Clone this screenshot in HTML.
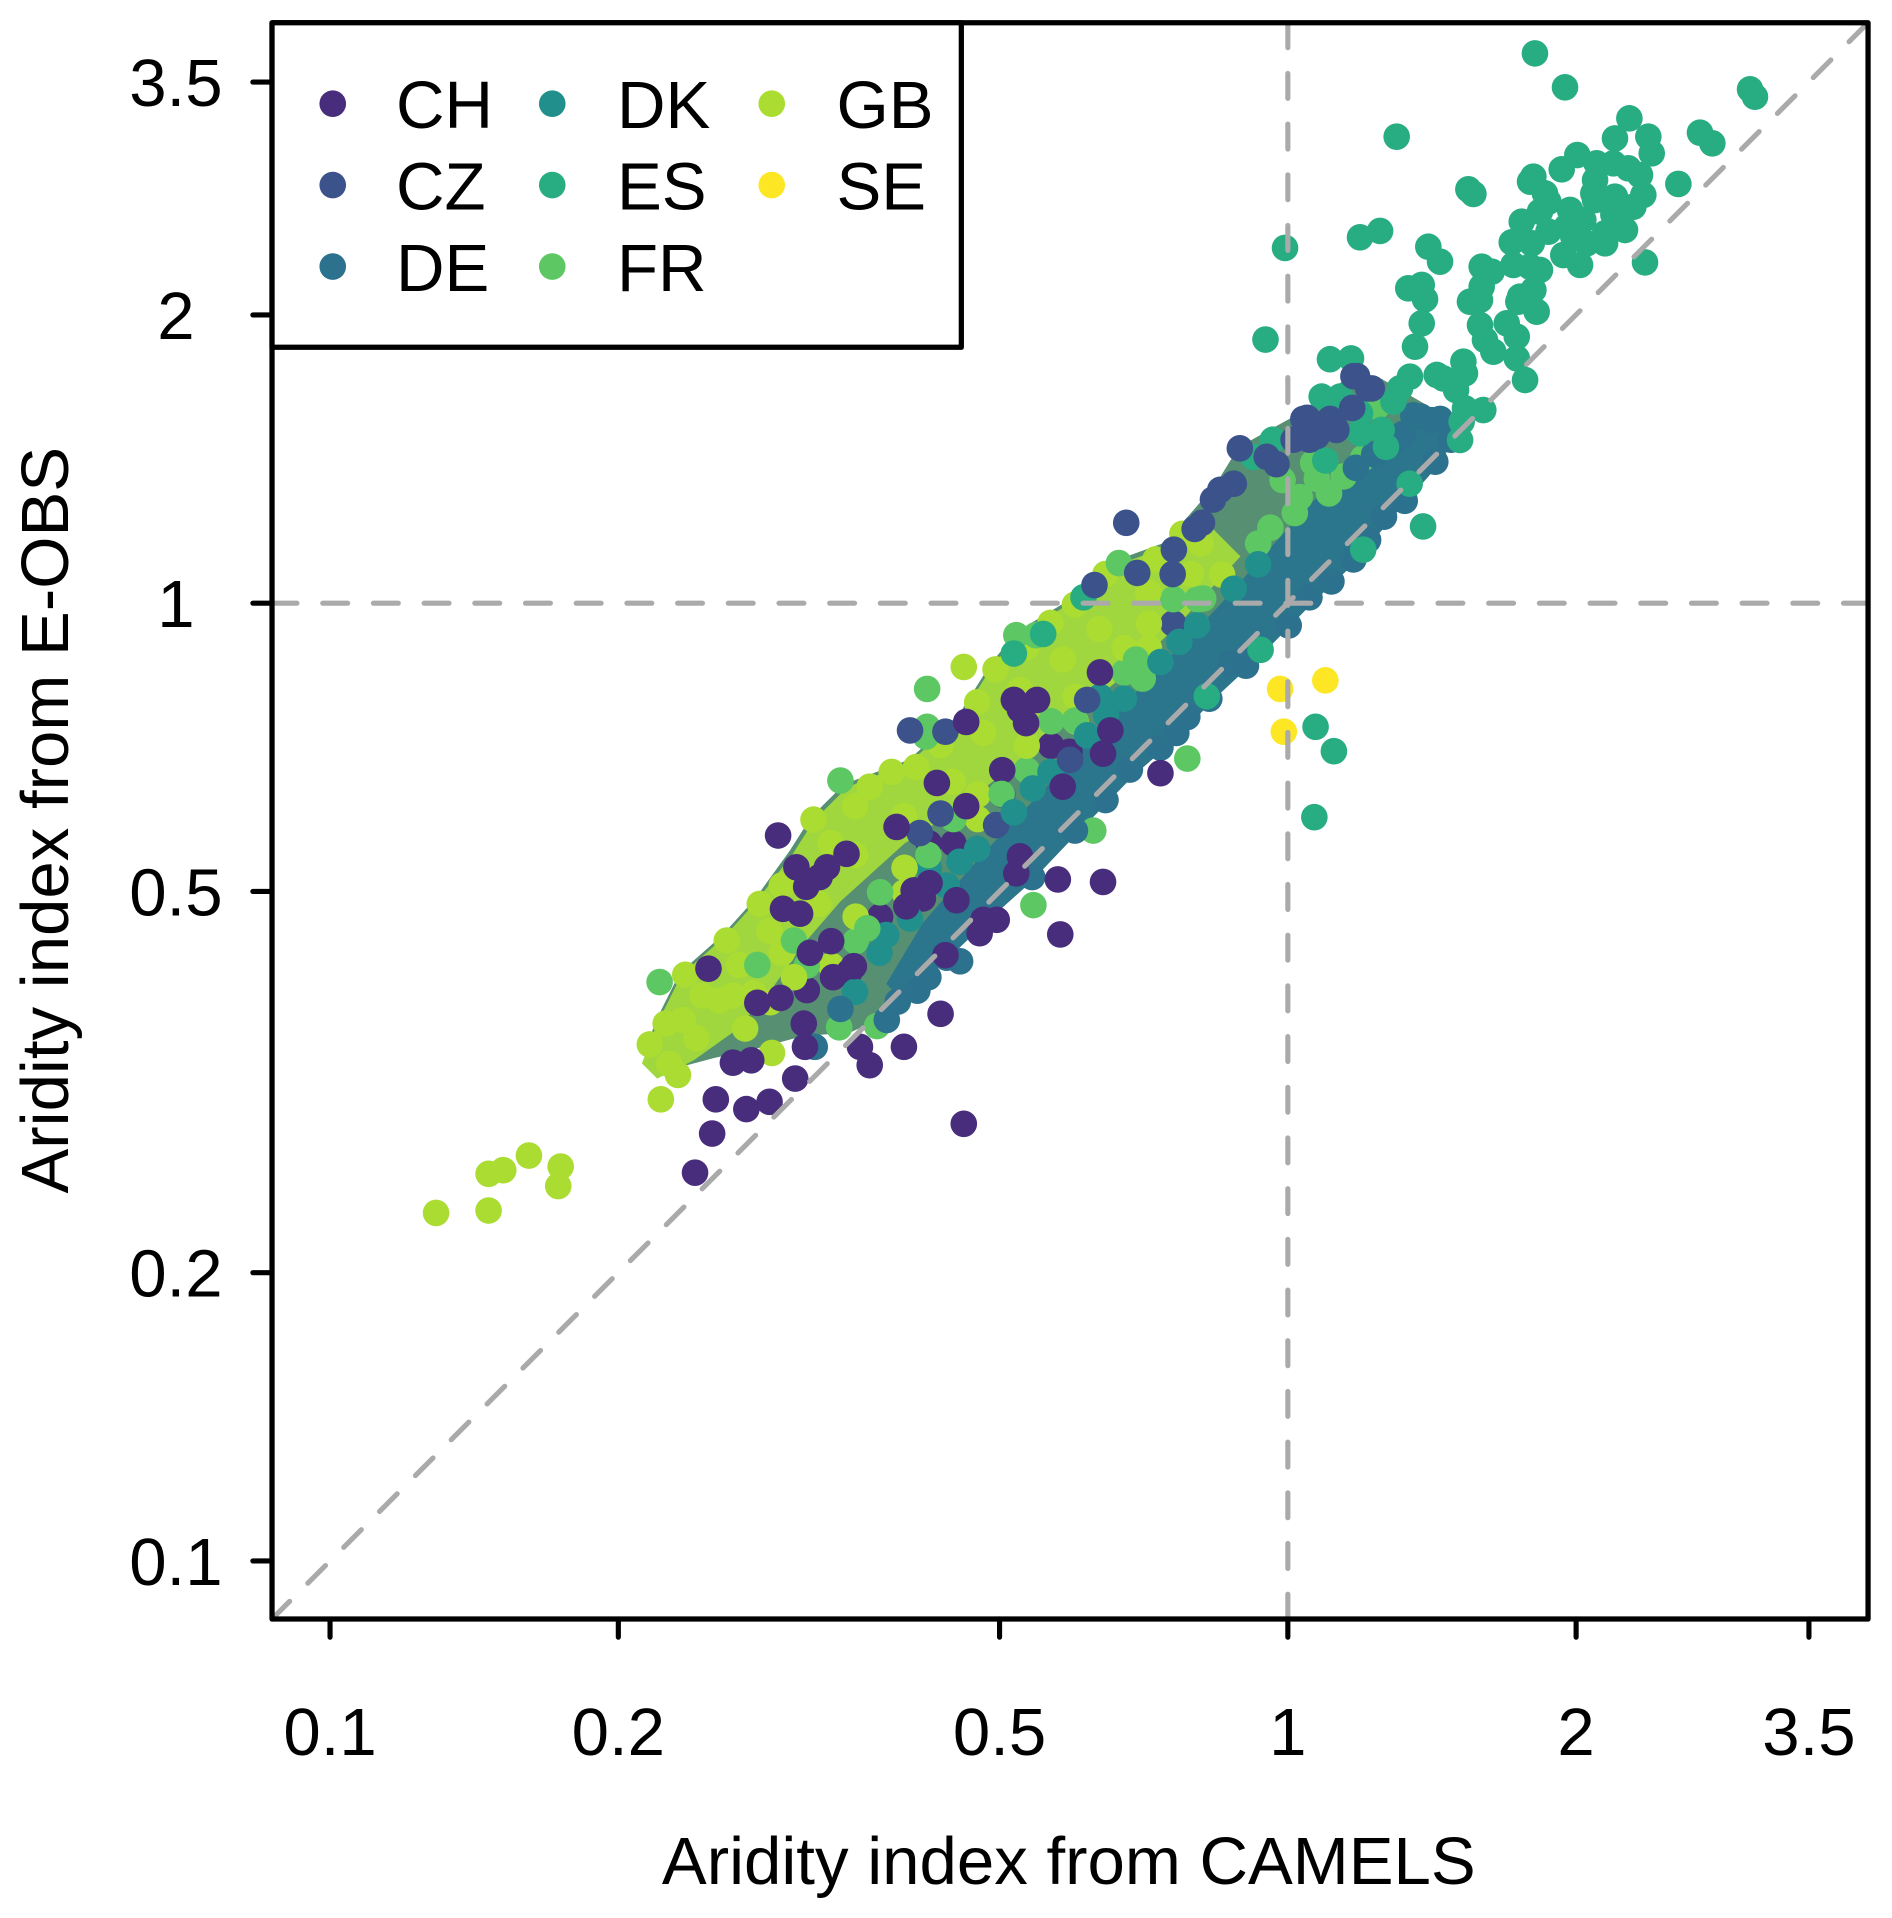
<!DOCTYPE html>
<html>
<head>
<meta charset="utf-8">
<style>
html,body{margin:0;padding:0;background:#fff;}
svg{display:block;}
text{font-family:"Liberation Sans",Arial,sans-serif;font-size:55px;fill:#000;}
</style>
</head>
<body>
<svg width="1892" height="1918" viewBox="0 0 1548.9 1570.2" preserveAspectRatio="none" xmlns="http://www.w3.org/2000/svg">
<rect x="0" y="0" width="1548.9" height="1570.2" fill="#fff"/>

<!-- base cloud -->
<polygon fill="#568F72" points="529,859 536.5,836.5 556.5,796.5 591,766 618,736 646.5,696.5 664,669 691,642 744,622 785,585 812,542 833.5,516.5 869,495 892.5,474.5 913,459 954,444 995,397 1014,366 1063.5,338.5 1106.5,306.5 1129,309 1167,331 1198,348 1179,379 1136.5,427.5 1110,460 1076,492 1034,535 992,574 965.5,602.5 929,634 882,682 843,723 806,756 750,810 723,833 695.5,845.5 658,848 613,860 585,866 555,874 534,866"/>
<!-- GB-dominant zone -->
<polygon fill="#A0D63E" points="525.5,870.5 538,838 558,798 592.5,767.5 619.5,737.5 649,699 666.5,671.5 693.5,644.5 745.5,623.5 786.5,586.5 813.5,543.5 835.5,518.5 871,497 896,478 916,462 957,447 988,428 1015.5,455.5 965,511 924,550 883,583 828,628 784,662 740,691 688,738 656.5,774.5 633,808 603,843 568,868 538,883"/>
<!-- DE zone -->
<polygon fill="#2B768D" points="725.5,805.5 755.5,755.5 802,702 850.5,650.5 899,599 948,548 997,497 1044,444 1092,392 1138,358 1173,343 1195.5,345.5 1179,379 1136.5,427.5 1110,460 1076,492 1034,535 992,574 965.5,602.5 929,634 882,682 843,723 806,756 750,810 735.5,815.5"/>

<!-- texture in mixed zone -->
<g>
<circle cx="660.5" cy="810.5" r="10.9" fill="#472D7B"/><circle cx="680.5" cy="790.5" r="10.9" fill="#AADC32"/><circle cx="700.5" cy="770.5" r="10.9" fill="#5DC863"/><circle cx="720.5" cy="750.5" r="10.9" fill="#472D7B"/><circle cx="740.5" cy="730.5" r="10.9" fill="#AADC32"/><circle cx="760.5" cy="710.5" r="10.9" fill="#21908C"/><circle cx="780.5" cy="690.5" r="10.9" fill="#472D7B"/><circle cx="800.5" cy="670.5" r="10.9" fill="#AADC32"/><circle cx="820.5" cy="650.5" r="10.9" fill="#3B528B"/><circle cx="840.5" cy="630.5" r="10.9" fill="#5DC863"/><circle cx="860.5" cy="610.5" r="10.9" fill="#472D7B"/><circle cx="880.5" cy="590.5" r="10.9" fill="#AADC32"/><circle cx="900.5" cy="570.5" r="10.9" fill="#21908C"/><circle cx="920.5" cy="550.5" r="10.9" fill="#5DC863"/><circle cx="940.5" cy="530.5" r="10.9" fill="#AADC32"/><circle cx="960.5" cy="510.5" r="10.9" fill="#3B528B"/><circle cx="980.5" cy="490.5" r="10.9" fill="#5DC863"/><circle cx="1000.5" cy="470.5" r="10.9" fill="#AADC32"/>
<circle cx="630.5" cy="820.5" r="10.9" fill="#AADC32"/><circle cx="660.5" cy="790.5" r="10.9" fill="#5DC863"/><circle cx="680.5" cy="770.5" r="10.9" fill="#472D7B"/><circle cx="700.5" cy="750.5" r="10.9" fill="#AADC32"/><circle cx="720.5" cy="730.5" r="10.9" fill="#5DC863"/><circle cx="740.5" cy="710.5" r="10.9" fill="#AADC32"/><circle cx="760.5" cy="690.5" r="10.9" fill="#472D7B"/><circle cx="780.5" cy="670.5" r="10.9" fill="#5DC863"/><circle cx="800.5" cy="650.5" r="10.9" fill="#AADC32"/><circle cx="820.5" cy="630.5" r="10.9" fill="#472D7B"/><circle cx="840.5" cy="610.5" r="10.9" fill="#AADC32"/><circle cx="860.5" cy="590.5" r="10.9" fill="#5DC863"/><circle cx="880.5" cy="570.5" r="10.9" fill="#AADC32"/><circle cx="900.5" cy="550.5" r="10.9" fill="#472D7B"/><circle cx="920.5" cy="530.5" r="10.9" fill="#AADC32"/><circle cx="940.5" cy="510.5" r="10.9" fill="#AADC32"/><circle cx="960.5" cy="490.5" r="10.9" fill="#5DC863"/>
<circle cx="695.5" cy="795.5" r="10.9" fill="#472D7B"/><circle cx="725.5" cy="765.5" r="10.9" fill="#21908C"/><circle cx="755.5" cy="735.5" r="10.9" fill="#472D7B"/><circle cx="785.5" cy="705.5" r="10.9" fill="#21908C"/><circle cx="815.5" cy="675.5" r="10.9" fill="#3B528B"/><circle cx="845.5" cy="645.5" r="10.9" fill="#21908C"/><circle cx="875.5" cy="615.5" r="10.9" fill="#472D7B"/><circle cx="905.5" cy="585.5" r="10.9" fill="#21908C"/><circle cx="935.5" cy="555.5" r="10.9" fill="#5DC863"/><circle cx="965.5" cy="525.5" r="10.9" fill="#21908C"/>
</g>

<g fill="#AADC32">
<circle cx="357" cy="993" r="10.9"/><circle cx="400" cy="961" r="10.9"/><circle cx="412" cy="958" r="10.9"/><circle cx="433" cy="946" r="10.9"/><circle cx="459" cy="955" r="10.9"/><circle cx="457" cy="971" r="10.9"/><circle cx="400" cy="991" r="10.9"/>
<circle cx="541" cy="900" r="10.9"/><circle cx="548" cy="871" r="10.9"/><circle cx="532" cy="855" r="10.9"/><circle cx="545" cy="838" r="10.9"/><circle cx="561" cy="798" r="10.9"/><circle cx="559" cy="835" r="10.9"/><circle cx="575" cy="815" r="10.9"/><circle cx="589" cy="819" r="10.9"/><circle cx="595" cy="770" r="10.9"/><circle cx="617" cy="813" r="10.9"/><circle cx="605" cy="790" r="10.9"/><circle cx="622" cy="740" r="10.9"/><circle cx="630" cy="762" r="10.9"/><circle cx="610" cy="842" r="10.9"/><circle cx="632" cy="862" r="10.9"/><circle cx="650" cy="800" r="10.9"/><circle cx="640" cy="725" r="10.9"/><circle cx="666" cy="671" r="10.9"/><circle cx="680" cy="690" r="10.9"/><circle cx="700" cy="660" r="10.9"/><circle cx="712" cy="644" r="10.9"/><circle cx="730" cy="632" r="10.9"/><circle cx="750" cy="628" r="10.9"/><circle cx="770" cy="610" r="10.9"/><circle cx="789" cy="546" r="10.9"/><circle cx="800" cy="575" r="10.9"/><circle cx="815" cy="548" r="10.9"/><circle cx="840" cy="530" r="10.9"/><circle cx="860" cy="510" r="10.9"/><circle cx="880" cy="495" r="10.9"/><circle cx="905" cy="470" r="10.9"/><circle cx="946" cy="458" r="10.9"/><circle cx="968" cy="437" r="10.9"/><circle cx="983" cy="445" r="10.9"/><circle cx="975" cy="470" r="10.9"/><circle cx="940" cy="485" r="10.9"/><circle cx="900" cy="515" r="10.9"/><circle cx="870" cy="540" r="10.9"/><circle cx="835" cy="565" r="10.9"/><circle cx="805" cy="600" r="10.9"/><circle cx="780" cy="640" r="10.9"/><circle cx="740" cy="668" r="10.9"/><circle cx="700" cy="700" r="10.9"/><circle cx="670" cy="740" r="10.9"/><circle cx="640" cy="780" r="10.9"/><circle cx="600" cy="815" r="10.9"/><circle cx="570" cy="850" r="10.9"/><circle cx="555" cy="880" r="10.9"/>
</g>

<g fill="#5DC863">
<circle cx="540" cy="804" r="10.9"/><circle cx="688" cy="639" r="10.9"/><circle cx="759" cy="564" r="10.9"/><circle cx="759" cy="595" r="10.9"/><circle cx="758" cy="603" r="10.9"/><circle cx="832" cy="520" r="10.9"/><circle cx="848" cy="520" r="10.9"/><circle cx="916" cy="461" r="10.9"/><circle cx="972" cy="621" r="10.9"/><circle cx="846" cy="741" r="10.9"/><circle cx="895" cy="680" r="10.9"/><circle cx="718" cy="840" r="10.9"/><circle cx="687" cy="841" r="10.9"/><circle cx="1127" cy="333" r="10.9"/><circle cx="1116" cy="375" r="10.9"/><circle cx="1088" cy="404" r="10.9"/><circle cx="1075" cy="379" r="10.9"/><circle cx="1064" cy="407" r="10.9"/><circle cx="1050" cy="393" r="10.9"/><circle cx="1040" cy="432" r="10.9"/><circle cx="1030" cy="445" r="10.9"/><circle cx="1078" cy="392" r="10.9"/><circle cx="1100" cy="390" r="10.9"/><circle cx="1060" cy="420" r="10.9"/><circle cx="710" cy="760" r="10.9"/><circle cx="760" cy="700" r="10.9"/><circle cx="820" cy="650" r="10.9"/><circle cx="880" cy="590" r="10.9"/><circle cx="930" cy="540" r="10.9"/><circle cx="985" cy="490" r="10.9"/><circle cx="650" cy="770" r="10.9"/><circle cx="620" cy="790" r="10.9"/>
</g>

<g fill="#21908C">
<circle cx="775" cy="725" r="10.9"/><circle cx="800" cy="695" r="10.9"/><circle cx="830" cy="665" r="10.9"/><circle cx="860" cy="632" r="10.9"/><circle cx="890" cy="602" r="10.9"/><circle cx="920" cy="572" r="10.9"/><circle cx="950" cy="542" r="10.9"/><circle cx="980" cy="512" r="10.9"/><circle cx="1010" cy="482" r="10.9"/><circle cx="745" cy="752" r="10.9"/><circle cx="720" cy="780" r="10.9"/><circle cx="700" cy="812" r="10.9"/><circle cx="1030" cy="462" r="10.9"/>
</g>

<g fill="#2C728E">
<circle cx="688" cy="826" r="10.9"/><circle cx="667" cy="857" r="10.9"/><circle cx="726" cy="835" r="10.9"/><circle cx="751" cy="811" r="10.9"/><circle cx="786" cy="787" r="10.9"/><circle cx="1157" cy="340" r="10.9"/><circle cx="1172" cy="344" r="10.9"/><circle cx="1149" cy="355" r="10.9"/><circle cx="1163" cy="341" r="10.9"/><circle cx="1179" cy="343" r="10.9"/><circle cx="1133" cy="423" r="10.9"/><circle cx="1108" cy="458" r="10.9"/><circle cx="1072" cy="489" r="10.9"/><circle cx="1007" cy="543" r="10.9"/><circle cx="972" cy="587" r="10.9"/><circle cx="963" cy="600" r="10.9"/><circle cx="925" cy="630" r="10.9"/><circle cx="880" cy="680" r="10.9"/><circle cx="845" cy="718" r="10.9"/><circle cx="810" cy="752" r="10.9"/><circle cx="775" cy="784" r="10.9"/><circle cx="905" cy="655" r="10.9"/><circle cx="950" cy="612" r="10.9"/><circle cx="990" cy="572" r="10.9"/><circle cx="1020" cy="545" r="10.9"/><circle cx="1055" cy="512" r="10.9"/><circle cx="1090" cy="476" r="10.9"/><circle cx="1120" cy="442" r="10.9"/><circle cx="1150" cy="410" r="10.9"/><circle cx="1175" cy="378" r="10.9"/><circle cx="1188" cy="360" r="10.9"/><circle cx="1110" cy="383" r="10.9"/><circle cx="1140" cy="362" r="10.9"/><circle cx="1125" cy="372" r="10.9"/><circle cx="760" cy="800" r="10.9"/><circle cx="735" cy="820" r="10.9"/>
</g>

<g fill="#27AD81">
<circle cx="1256.6" cy="43.7" r="10.9"/><circle cx="1281.2" cy="71.5" r="10.9"/><circle cx="1143.4" cy="111.9" r="10.9"/><circle cx="1432.7" cy="73.1" r="10.9"/><circle cx="1436.7" cy="79.2" r="10.9"/><circle cx="1333.9" cy="96.9" r="10.9"/><circle cx="1322.1" cy="113.3" r="10.9"/><circle cx="1349.4" cy="111.9" r="10.9"/><circle cx="1352.2" cy="125.5" r="10.9"/><circle cx="1391.7" cy="108.6" r="10.9"/><circle cx="1401.8" cy="117.3" r="10.9"/><circle cx="1374" cy="150.6" r="10.9"/><circle cx="1346.7" cy="214.8" r="10.9"/><circle cx="1291.3" cy="126.9" r="10.9"/><circle cx="1278.5" cy="138.6" r="10.9"/><circle cx="1307.1" cy="133.7" r="10.9"/><circle cx="1320.8" cy="133.7" r="10.9"/><circle cx="1333" cy="137.8" r="10.9"/><circle cx="1342.6" cy="143.3" r="10.9"/><circle cx="1255.3" cy="144.6" r="10.9"/><circle cx="1252.6" cy="148.7" r="10.9"/><circle cx="1264.8" cy="158.3" r="10.9"/><circle cx="1267.6" cy="165.1" r="10.9"/><circle cx="1305.8" cy="147.4" r="10.9"/><circle cx="1304.4" cy="158.3" r="10.9"/><circle cx="1322.1" cy="161" r="10.9"/><circle cx="1345.3" cy="159.6" r="10.9"/><circle cx="1337.2" cy="169.2" r="10.9"/><circle cx="1305.8" cy="163.8" r="10.9"/><circle cx="1260.7" cy="173.3" r="10.9"/><circle cx="1245.8" cy="181.5" r="10.9"/><circle cx="1285.3" cy="171.9" r="10.9"/><circle cx="1296.2" cy="180.1" r="10.9"/><circle cx="1282.6" cy="185.6" r="10.9"/><circle cx="1267.6" cy="189.7" r="10.9"/><circle cx="1326.2" cy="180.1" r="10.9"/><circle cx="1320.8" cy="175.7" r="10.9"/><circle cx="1330.3" cy="188.3" r="10.9"/><circle cx="1314" cy="191" r="10.9"/><circle cx="1314" cy="199.2" r="10.9"/><circle cx="1237.6" cy="198.4" r="10.9"/><circle cx="1254" cy="199.2" r="10.9"/><circle cx="1288" cy="193.8" r="10.9"/><circle cx="1299" cy="199.2" r="10.9"/><circle cx="1279.8" cy="208.8" r="10.9"/><circle cx="1293.5" cy="216.9" r="10.9"/><circle cx="1238.9" cy="216.9" r="10.9"/><circle cx="1252.6" cy="218.3" r="10.9"/><circle cx="1260.7" cy="221" r="10.9"/><circle cx="1213" cy="218.3" r="10.9"/><circle cx="1221.2" cy="222.4" r="10.9"/><circle cx="1169.3" cy="202" r="10.9"/><circle cx="1178.9" cy="214.2" r="10.9"/><circle cx="1113.4" cy="194.3" r="10.9"/><circle cx="1129.8" cy="189.1" r="10.9"/><circle cx="1202.1" cy="155" r="10.9"/><circle cx="1206.2" cy="158.8" r="10.9"/><circle cx="1152.9" cy="236" r="10.9"/><circle cx="1163.9" cy="233.3" r="10.9"/><circle cx="1166.6" cy="245" r="10.9"/><circle cx="1213" cy="234.7" r="10.9"/><circle cx="1203.4" cy="247" r="10.9"/><circle cx="1211.6" cy="245.6" r="10.9"/><circle cx="1244.4" cy="242.9" r="10.9"/><circle cx="1255.3" cy="237.4" r="10.9"/><circle cx="1258" cy="255.2" r="10.9"/><circle cx="1243" cy="247" r="10.9"/><circle cx="1163.9" cy="264.7" r="10.9"/><circle cx="1158.4" cy="283.8" r="10.9"/><circle cx="1211.6" cy="266.1" r="10.9"/><circle cx="1215.7" cy="278.3" r="10.9"/><circle cx="1222.5" cy="287.9" r="10.9"/><circle cx="1233.5" cy="264.7" r="10.9"/><circle cx="1241.7" cy="275.6" r="10.9"/><circle cx="1241.7" cy="293.3" r="10.9"/><circle cx="1248.5" cy="311.1" r="10.9"/><circle cx="1198" cy="296.1" r="10.9"/><circle cx="1199.3" cy="305.6" r="10.9"/><circle cx="1176.2" cy="307" r="10.9"/><circle cx="1181.6" cy="309.8" r="10.9"/><circle cx="1192" cy="319.3" r="10.9"/><circle cx="1199.3" cy="334.3" r="10.9"/><circle cx="1214.3" cy="335.7" r="10.9"/><circle cx="1196.6" cy="345.2" r="10.9"/><circle cx="1195.3" cy="360.2" r="10.9"/><circle cx="1088.8" cy="294.1" r="10.9"/><circle cx="1106" cy="293.4" r="10.9"/><circle cx="1154.3" cy="308.4" r="10.9"/><circle cx="1146.1" cy="317.9" r="10.9"/><circle cx="1140.7" cy="328.8" r="10.9"/><circle cx="1131.1" cy="352" r="10.9"/><circle cx="1082" cy="324.7" r="10.9"/><circle cx="1097" cy="324.7" r="10.9"/><circle cx="1113.4" cy="338.4" r="10.9"/><circle cx="1113.4" cy="354.7" r="10.9"/><circle cx="1134.6" cy="365.8" r="10.9"/>
<circle cx="854" cy="519" r="10.9"/><circle cx="830" cy="535" r="10.9"/><circle cx="887" cy="489" r="10.9"/><circle cx="1036" cy="278" r="10.9"/><circle cx="1052" cy="203" r="10.9"/><circle cx="1042" cy="360" r="10.9"/><circle cx="1026" cy="374" r="10.9"/><circle cx="1085" cy="377" r="10.9"/><circle cx="1154" cy="396" r="10.9"/><circle cx="1165" cy="431" r="10.9"/><circle cx="1116" cy="450" r="10.9"/><circle cx="1032" cy="532" r="10.9"/><circle cx="988" cy="570" r="10.9"/><circle cx="1077" cy="595" r="10.9"/><circle cx="1092" cy="615" r="10.9"/><circle cx="1076" cy="669" r="10.9"/>
</g>

<g fill="#3B528B">
<circle cx="922" cy="428" r="10.9"/><circle cx="896" cy="479" r="10.9"/><circle cx="931" cy="469" r="10.9"/><circle cx="961" cy="450" r="10.9"/><circle cx="984" cy="428" r="10.9"/><circle cx="999" cy="401" r="10.9"/><circle cx="1010" cy="396" r="10.9"/><circle cx="1015" cy="367" r="10.9"/><circle cx="1037" cy="374" r="10.9"/><circle cx="1067" cy="343" r="10.9"/><circle cx="1083" cy="347" r="10.9"/><circle cx="1092" cy="347" r="10.9"/><circle cx="1094" cy="352" r="10.9"/><circle cx="1111" cy="308" r="10.9"/><circle cx="1123" cy="318" r="10.9"/><circle cx="1107" cy="334" r="10.9"/><circle cx="1059" cy="360" r="10.9"/><circle cx="1072" cy="360" r="10.9"/><circle cx="993" cy="409" r="10.9"/><circle cx="978" cy="433" r="10.9"/><circle cx="1108" cy="308" r="10.9"/><circle cx="1120" cy="318" r="10.9"/><circle cx="1089" cy="343" r="10.9"/><circle cx="1070" cy="342" r="10.9"/><circle cx="1078" cy="357" r="10.9"/><circle cx="774" cy="599" r="10.9"/><circle cx="753" cy="682" r="10.9"/><circle cx="770" cy="666" r="10.9"/><circle cx="890" cy="573" r="10.9"/><circle cx="876" cy="622" r="10.9"/><circle cx="745" cy="598" r="10.9"/><circle cx="960" cy="470" r="10.9"/><circle cx="1045" cy="380" r="10.9"/>
</g>

<g fill="#472D7B">
<circle cx="637" cy="684" r="10.9"/><circle cx="652" cy="710" r="10.9"/><circle cx="641" cy="744" r="10.9"/><circle cx="580" cy="793" r="10.9"/><circle cx="658" cy="838" r="10.9"/><circle cx="682" cy="800" r="10.9"/><circle cx="704" cy="857" r="10.9"/><circle cx="740" cy="857" r="10.9"/><circle cx="770" cy="830" r="10.9"/><circle cx="868" cy="765" r="10.9"/><circle cx="866" cy="720" r="10.9"/><circle cx="903" cy="722" r="10.9"/><circle cx="791" cy="591" r="10.9"/><circle cx="835" cy="581" r="10.9"/><circle cx="671" cy="718" r="10.9"/><circle cx="693" cy="699" r="10.9"/><circle cx="677" cy="710" r="10.9"/><circle cx="660" cy="726" r="10.9"/><circle cx="655" cy="748" r="10.9"/><circle cx="663" cy="780" r="10.9"/><circle cx="699" cy="791" r="10.9"/><circle cx="767" cy="641" r="10.9"/><circle cx="791" cy="660" r="10.9"/><circle cx="734" cy="677" r="10.9"/><circle cx="748" cy="729" r="10.9"/><circle cx="761" cy="723" r="10.9"/><circle cx="742" cy="742" r="10.9"/><circle cx="783" cy="737" r="10.9"/><circle cx="805" cy="753" r="10.9"/><circle cx="816" cy="753" r="10.9"/><circle cx="802" cy="764" r="10.9"/><circle cx="830" cy="573" r="10.9"/><circle cx="840" cy="592" r="10.9"/><circle cx="849" cy="573" r="10.9"/><circle cx="903" cy="617" r="10.9"/><circle cx="909" cy="598" r="10.9"/><circle cx="870" cy="644" r="10.9"/><circle cx="835" cy="701" r="10.9"/><circle cx="832" cy="715" r="10.9"/><circle cx="639" cy="817" r="10.9"/><circle cx="620" cy="821" r="10.9"/><circle cx="659" cy="857" r="10.9"/><circle cx="774" cy="782" r="10.9"/><circle cx="950" cy="633" r="10.9"/><circle cx="583" cy="928" r="10.9"/><circle cx="569" cy="960" r="10.9"/><circle cx="611" cy="908" r="10.9"/><circle cx="630" cy="902" r="10.9"/><circle cx="651" cy="883" r="10.9"/><circle cx="600" cy="870" r="10.9"/><circle cx="615" cy="868" r="10.9"/><circle cx="586" cy="900" r="10.9"/><circle cx="789" cy="920" r="10.9"/><circle cx="712" cy="872" r="10.9"/>
</g>

<g fill="#FDE725">
<circle cx="1048" cy="564" r="10.9"/><circle cx="1085" cy="557" r="10.9"/><circle cx="1051" cy="599" r="10.9"/>
</g>

<!-- reference lines -->
<g stroke="#AAAAAA" stroke-width="4.2" stroke-dasharray="20.4 21.1" stroke-linecap="round" fill="none">
<line x1="222.7" y1="1325.4" x2="1529.3" y2="18.6"/>
<line x1="1054.3" y1="18.6" x2="1054.3" y2="1325.4"/>
<line x1="222.7" y1="493.8" x2="1529.3" y2="493.8"/>
</g>

<!-- axes box -->
<rect x="222.7" y="18.6" width="1306.6" height="1306.8" fill="none" stroke="#000" stroke-width="4.3" stroke-linejoin="round"/>
<path d="M207,67.2H222.7M207,257.8H222.7M207,493.8H222.7M207,729.8H222.7M207,1041.9H222.7M207,1277.9H222.7M270.2,1325.4V1340.3M506.2,1325.4V1340.3M818.3,1325.4V1340.3M1054.3,1325.4V1340.3M1290.3,1325.4V1340.3M1480.9,1325.4V1340.3" stroke="#000" stroke-width="4.2" stroke-linecap="round" fill="none"/>

<!-- y tick labels -->
<g text-anchor="middle">
<text x="144" y="86.9">3.5</text>
<text x="144" y="277.5">2</text>
<text x="144" y="513.5">1</text>
<text x="144" y="749.5">0.5</text>
<text x="144" y="1061.6">0.2</text>
<text x="144" y="1297.6">0.1</text>
</g>
<!-- x tick labels -->
<g text-anchor="middle">
<text x="270.2" y="1436.7">0.1</text>
<text x="506.2" y="1436.7">0.2</text>
<text x="818.3" y="1436.7">0.5</text>
<text x="1054.3" y="1436.7">1</text>
<text x="1290.3" y="1436.7">2</text>
<text x="1480.9" y="1436.7">3.5</text>
</g>
<!-- axis titles -->
<text x="875" y="1542.4" text-anchor="middle">Aridity index from CAMELS</text>
<text transform="translate(55.7,671.5) rotate(-90)" text-anchor="middle">Aridity index from E-OBS</text>

<!-- legend -->
<rect x="222.7" y="18.6" width="564.3" height="265.7" fill="#fff" stroke="#000" stroke-width="4.3" stroke-linejoin="round"/>
<circle cx="272.4" cy="84.9" r="10.9" fill="#472D7B"/>
<circle cx="272.4" cy="151.5" r="10.9" fill="#3B528B"/>
<circle cx="272.4" cy="218.2" r="10.9" fill="#2C728E"/>
<circle cx="452.1" cy="84.9" r="10.9" fill="#21908C"/>
<circle cx="452.1" cy="151.5" r="10.9" fill="#27AD81"/>
<circle cx="452.1" cy="218.2" r="10.9" fill="#5DC863"/>
<circle cx="631.8" cy="84.9" r="10.9" fill="#AADC32"/>
<circle cx="631.8" cy="151.5" r="10.9" fill="#FDE725"/>
<text x="324.2" y="105">CH</text>
<text x="324.2" y="171.6">CZ</text>
<text x="324.2" y="238.2">DE</text>
<text x="505.1" y="105">DK</text>
<text x="505.1" y="171.6">ES</text>
<text x="505.1" y="238.2">FR</text>
<text x="684.8" y="105">GB</text>
<text x="684.8" y="171.6">SE</text>
</svg>
</body>
</html>
